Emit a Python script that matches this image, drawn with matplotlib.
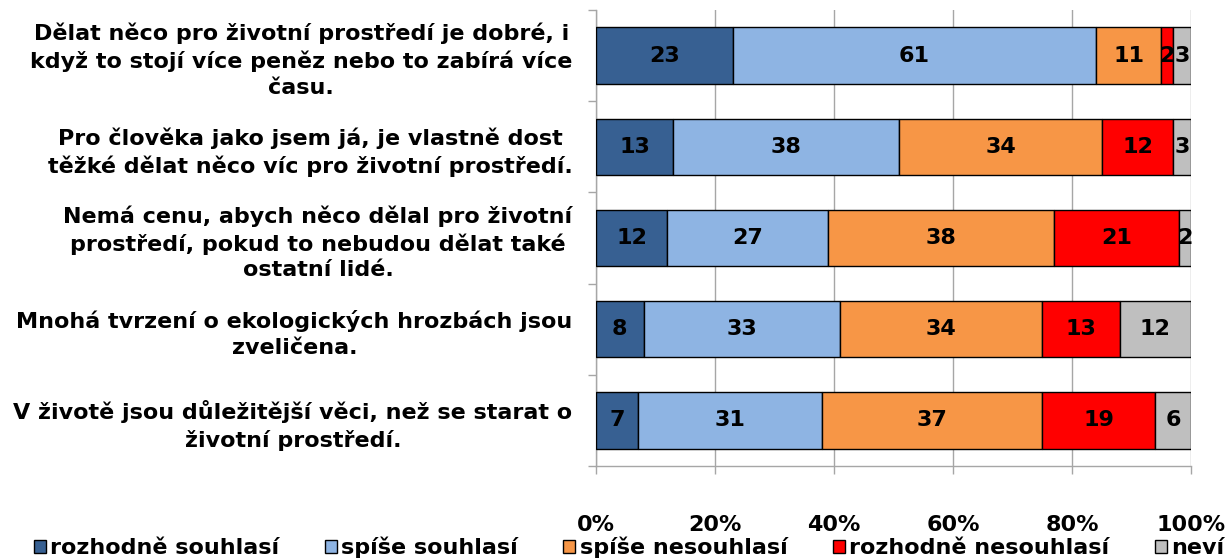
import matplotlib.pyplot as plt
import numpy as np

plt.rcParams['font.family'] = ['DejaVu Sans']
plt.rcParams['font.weight'] = 'bold'

categories = [
    "Dělat něco pro životní prostředí je dobré, i\nkdyž to stojí více peněz nebo to zabírá více\nčasu.",
    "Pro člověka jako jsem já, je vlastně dost\ntěžké dělat něco víc pro životní prostředí.",
    "Nemá cenu, abych něco dělal pro životní\nprostředí, pokud to nebudou dělat také\nostatní lidé.",
    "Mnohá tvrzení o ekologických hrozbách jsou\nzveličena.",
    "V životě jsou důležitější věci, než se starat o\nživotní prostředí.",
]
series_names = ["rozhodně souhlasí", "spíše souhlasí", "spíše nesouhlasí",
                "rozhodně nesouhlasí", "neví"]
rozhodne_souhlasi = [23, 13, 12, 8, 7]
spise_souhlasi = [61, 38, 27, 33, 31]
spise_nesouhlasi = [11, 34, 38, 34, 37]
rozhodne_nesouhlasi = [2, 12, 21, 13, 19]
nevi = [3, 3, 2, 12, 6]
colors = ['#376092', '#8EB4E3', '#F79646', '#FF0000', '#BFBFBF']

series = [rozhodne_souhlasi, spise_souhlasi, spise_nesouhlasi, rozhodne_nesouhlasi, nevi]

fig = plt.figure(figsize=(12.3, 5.58), dpi=100)
ax = fig.add_axes([0.4846, 0.1649, 0.4837, 0.8171])

y = np.arange(len(categories))
left = np.zeros(len(categories))
for name, vals, c in zip(series_names, series, colors):
    vals = np.array(vals, dtype=float)
    ax.barh(y, vals, left=left, height=0.62, color=c, edgecolor='black',
            linewidth=1, label=name, zorder=3)
    for yi, l, v in zip(y, left, vals):
        ax.text(l + v / 2, yi, f"{int(v)}", ha='center', va='center',
                fontsize=16, fontweight='bold', color='black', zorder=4)
    left += vals

ax.set_xlim(0, 100)
ax.set_ylim(len(categories) - 0.5, -0.5)
ax.set_xticks(np.arange(0, 101, 20))
ax.set_xticklabels([f"{v}%" for v in range(0, 101, 20)], fontsize=16, fontweight='bold')
ax.grid(axis='x', color='#A6A6A6', linewidth=1, zorder=0)

ax.set_yticks(y)
ax.set_yticklabels(categories, fontsize=16, fontweight='bold', linespacing=1.36)
for lbl in ax.get_yticklabels():
    lbl.set_multialignment('center')
ax.set_yticks(np.arange(-0.5, len(categories)), minor=True)
ax.tick_params(axis='y', which='major', length=0, pad=17)
ax.tick_params(axis='y', which='minor', length=6, color='#A6A6A6', width=1)
ax.tick_params(axis='x', length=6, color='#A6A6A6', width=1, pad=29)

for s in ['top', 'right']:
    ax.spines[s].set_visible(False)
for s in ['left', 'bottom']:
    ax.spines[s].set_color('#A6A6A6')
    ax.spines[s].set_linewidth(1)

fig.legend(loc='center', bbox_to_anchor=(0.5114, 0.019), ncol=5, frameon=False,
           prop={'weight': 'bold', 'size': 16}, handlelength=0.55, handleheight=0.55,
           handletextpad=0.2, columnspacing=2.03, borderaxespad=0, borderpad=0)

fig.savefig('out.png', dpi=100)
